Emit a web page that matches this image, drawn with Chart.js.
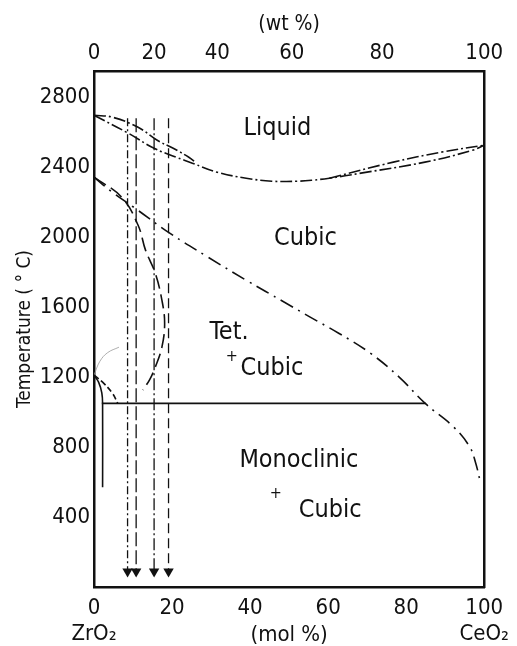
<!DOCTYPE html>
<html>
<head>
<meta charset="utf-8">
<script src="https://cdn.jsdelivr.net/npm/chart.js@4"></script>
<style>
  body { margin: 0; background: #fff; }
</style>
</head>
<body>
<canvas id="phaseChart" width="517" height="646"></canvas>
<script>
// ZrO2 - CeO2 phase diagram, mol % along the bottom, wt % along the top
const molTicks  = [0, 20, 40, 60, 80, 100];
const wtTicks   = [0, 20, 40, 60, 80, 100];
const wtAtMol   = [0, 15.4, 31.6, 50.7, 73.8, 100];
const tempTicks = [400, 800, 1200, 1600, 2000, 2400, 2800];

// [mol % CeO2, temperature °C]
const liquidus      = [[0, 2697], [8.8, 2594], [15.4, 2508], [21.1, 2457], [25.2, 2423], [31.6, 2371], [39, 2337], [45.6, 2320], [52.2, 2320], [56.1, 2326], [60.3, 2337], [68.4, 2366], [84.8, 2429], [97, 2497], [100, 2526]];
const liquidusLeft  = [[0, 2697], [4.7, 2686], [11.3, 2628], [16.2, 2554], [20.3, 2508], [24.3, 2457], [26, 2428]];
const liquidusRight = [[60.3, 2337], [76.7, 2429], [89, 2486], [100, 2526]];
const cubicLine     = [[0, 2343], [4.7, 2257], [10.5, 2166], [19.4, 2023], [29.2, 1886], [39, 1754], [48.8, 1628], [55.4, 1543], [62.7, 1451], [70.8, 1337], [78.2, 1200], [84.8, 1051], [92.2, 914], [96.3, 800], [97.8, 709], [99, 600]];
const tetSolvus     = [[0, 2343], [7.1, 2228], [11.3, 2068], [13.2, 1926], [15.7, 1794], [17.4, 1640], [18.1, 1508], [17.4, 1371], [15.7, 1257], [14.2, 1183], [12.5, 1126]];
const monoLine      = [[0, 1211], [1.2, 1170], [2, 1110], [2.2, 1050], [2.2, 570]];
const tetArc        = [[0, 1211], [2.2, 1171], [4.7, 1108], [6.1, 1050]];
const faintArc      = [[0, 1211], [1.5, 1290], [3.5, 1340], [6.4, 1371]];
const eutectoid     = [[2, 1050], [85, 1050]];

const arrowMol    = [8.6, 10.8, 15.4, 19.1];
const arrowTop    = 2680;
const arrowBottom = 88;

const regionLabels = [
    ['Liquid', 47, 2623], ['Cubic', 54.2, 1994], ['Tet.', 34.6, 1457], ['+', 35.3, 1314],
    ['Cubic', 45.6, 1251], ['Monoclinic', 52.5, 726], ['+', 46.6, 531], ['Cubic', 60.5, 440],
];

const FONT = "'Liberation Sans Narrow', 'DejaVu Sans Condensed', sans-serif";
const INK  = '#111';

const pts = arr => arr.map(([x, y]) => ({ x, y }));

function curve(data, dash, extra) {
    return Object.assign({
        data: pts(data),
        borderColor: INK,
        borderWidth: 1.6,
        borderDash: dash,
        pointRadius: 0,
        tension: 0.4,
        fill: false,
    }, extra || {});
}

const datasets = [
    curve(liquidus, [12, 3, 2, 3]),
    curve(liquidusLeft, [12, 3, 2, 3]),
    curve(liquidusRight, [12, 3, 2, 3]),
    curve(cubicLine, [14, 6, 2, 6]),
    curve(tetSolvus, [14, 6]),
    curve(monoLine, [], { tension: 0.3 }),
    curve(tetArc, [6, 3]),
    curve(faintArc, [], { borderColor: '#999', borderWidth: 0.8 }),
    curve(eutectoid, [], { tension: 0 }),
];

const arrowDashes = [[8, 3, 2, 3], [14, 4], [12, 3, 2, 3], [10, 5]];
arrowMol.forEach((m, i) => {
    datasets.push(curve([[m, arrowTop], [m, arrowBottom]], arrowDashes[i], {
        tension: 0,
        borderWidth: 1.3,
        pointRadius: [0, 6],
        pointStyle: 'triangle',
        pointRotation: 180,
        pointBackgroundColor: INK,
        pointBorderColor: INK,
        pointBorderWidth: 0,
    }));
});

const labelPlugin = {
    id: 'regionLabels',
    afterDatasetsDraw(chart) {
        const { ctx, scales: { x, y } } = chart;
        ctx.save();
        ctx.fillStyle = INK;
        ctx.textAlign = 'center';
        ctx.textBaseline = 'middle';
        regionLabels.forEach(([txt, m, t]) => {
            ctx.font = (txt === '+' ? '16px ' : '25px ') + FONT;
            ctx.fillText(txt, x.getPixelForValue(m), y.getPixelForValue(t));
        });
        ctx.restore();
    },
};

const border = { display: true, color: INK, width: 2.5 };

new Chart(document.getElementById('phaseChart'), {
    type: 'line',
    data: { datasets },
    plugins: [labelPlugin],
    options: {
        responsive: false,
        animation: false,
        devicePixelRatio: 1,
        layout: { padding: 0 },
        plugins: { legend: { display: false }, tooltip: { enabled: false } },
        scales: {
            x: {
                type: 'linear', position: 'bottom', min: 0, max: 100,
                afterBuildTicks: s => { s.ticks = molTicks.map(v => ({ value: v })); },
                afterFit: s => { s.height = 59; },
                grid: { display: false, drawTicks: false },
                border,
                ticks: {
                    color: INK, padding: 8, autoSkip: false, maxRotation: 0,
                    font: { family: FONT, size: 22 },
                    callback: v => v === 0 ? ['0', 'ZrO₂'] : v === 100 ? ['100', 'CeO₂'] : String(v),
                },
                title: {
                    display: true, text: '(mol %)', color: INK,
                    font: { family: FONT, size: 22 }, padding: { top: 0, bottom: -2 },
                },
            },
            xTop: {
                type: 'linear', position: 'top', min: 0, max: 100,
                afterBuildTicks: s => { s.ticks = wtAtMol.map(v => ({ value: v })); },
                afterFit: s => { s.height = 71; },
                grid: { display: false, drawTicks: false },
                border,
                ticks: {
                    color: INK, padding: 5, autoSkip: false, maxRotation: 0,
                    font: { family: FONT, size: 22 },
                    callback: (v, i) => String(wtTicks[i]),
                },
                title: {
                    display: true, text: '(wt %)', color: INK,
                    font: { family: FONT, size: 21 }, padding: { top: 12, bottom: 0 },
                },
            },
            y: {
                type: 'linear', position: 'left', min: 0, max: 2950,
                afterBuildTicks: s => { s.ticks = tempTicks.map(v => ({ value: v })); },
                afterFit: s => { s.width = 94; },
                grid: { display: false, drawTicks: false },
                border,
                ticks: {
                    color: INK, padding: 4,
                    font: { family: FONT, size: 22 },
                    callback: v => String(v),
                },
                title: {
                    display: true, text: 'Temperature ( ° C)', color: INK,
                    font: { family: FONT, size: 19 }, padding: { top: 14, bottom: 0 },
                },
            },
            yRight: {
                type: 'linear', position: 'right', min: 0, max: 2950,
                afterFit: s => { s.width = 15; },
                grid: { display: false, drawTicks: false },
                border,
                ticks: { display: false },
            },
        },
    },
});
</script>
</body>
</html>
